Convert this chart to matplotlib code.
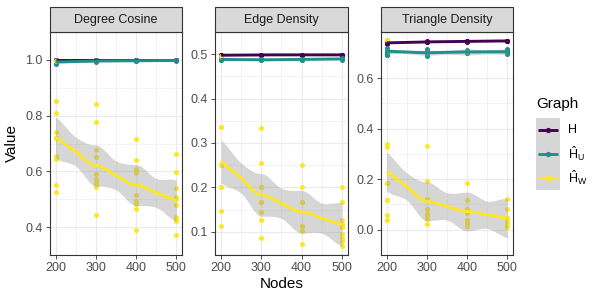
import numpy as np
import matplotlib
matplotlib.use('Agg')
import matplotlib.pyplot as plt
from matplotlib.patches import Rectangle
from matplotlib.lines import Line2D

plt.rcParams['font.family'] = ['Liberation Sans', 'DejaVu Sans']
plt.rcParams['mathtext.fontset'] = 'custom'
plt.rcParams['mathtext.rm'] = 'Liberation Sans'
plt.rcParams['mathtext.it'] = 'Liberation Sans'
plt.rcParams['mathtext.bf'] = 'Liberation Sans:bold'

# ---------------- data ----------------
nodes = [200, 300, 400, 500]
facets = ['Degree Cosine', 'Edge Density', 'Triangle Density']
legend_title = 'Graph'
series_labels = ['H', r'$\hat{\mathrm{H}}_\mathrm{U}$', r'$\hat{\mathrm{H}}_\mathrm{W}$']
series_colors = ['#440154', '#21908C', '#FDE725']

# Degree Cosine
deg_H = [[1.000, 0.9995, 0.999], [1.000, 0.9995, 0.999], [1.000, 0.9995, 0.999], [1.000, 0.9995, 0.999]]
deg_HU = [[0.999, 0.995, 0.992, 0.989, 0.986], [0.999, 0.997, 0.995, 0.993],
          [0.999, 0.997, 0.996], [0.999, 0.998, 0.996]]
deg_HW = [[0.997, 0.853, 0.809, 0.742, 0.721, 0.720, 0.655, 0.643, 0.551, 0.526],
          [0.843, 0.778, 0.676, 0.653, 0.590, 0.571, 0.561, 0.551, 0.543, 0.442],
          [0.715, 0.640, 0.608, 0.602, 0.595, 0.514, 0.495, 0.482, 0.465, 0.390],
          [0.662, 0.598, 0.541, 0.508, 0.501, 0.480, 0.436, 0.428, 0.421, 0.371]]

# Edge Density
edge_H = [[0.499, 0.498, 0.496], [0.499, 0.4985, 0.498], [0.499, 0.4985, 0.498], [0.499, 0.4985, 0.498]]
edge_HU = [[0.491, 0.489, 0.487, 0.486], [0.489, 0.487, 0.486],
           [0.490, 0.488, 0.487], [0.491, 0.489, 0.488]]
edge_HW = [[0.497, 0.337, 0.337, 0.251, 0.251, 0.251, 0.201, 0.201, 0.146, 0.114],
           [0.334, 0.254, 0.201, 0.201, 0.168, 0.168, 0.145, 0.145, 0.127, 0.086],
           [0.250, 0.200, 0.167, 0.167, 0.167, 0.112, 0.112, 0.101, 0.101, 0.072],
           [0.201, 0.168, 0.127, 0.117, 0.111, 0.111, 0.094, 0.086, 0.079, 0.067]]

# Triangle Density
tri_H = [[0.742, 0.739, 0.736], [0.745, 0.743, 0.741], [0.747, 0.745, 0.744], [0.748, 0.747, 0.745]]
tri_HU = [[0.750, 0.718, 0.706, 0.700, 0.697, 0.695, 0.693, 0.691],
          [0.715, 0.708, 0.702, 0.699, 0.696, 0.692, 0.688],
          [0.712, 0.706, 0.702, 0.699, 0.697],
          [0.716, 0.710, 0.705, 0.701, 0.697, 0.695]]
tri_HW = [[0.752, 0.338, 0.327, 0.184, 0.184, 0.184, 0.117, 0.117, 0.060, 0.038],
          [0.333, 0.193, 0.121, 0.121, 0.083, 0.083, 0.064, 0.056, 0.044, 0.022],
          [0.186, 0.119, 0.082, 0.082, 0.066, 0.066, 0.038, 0.038, 0.028, 0.016],
          [0.121, 0.083, 0.047, 0.047, 0.047, 0.036, 0.026, 0.026, 0.016, 0.010]]

panel_data = [[deg_H, deg_HU, deg_HW], [edge_H, edge_HU, edge_HW], [tri_H, tri_HU, tri_HW]]

y_limits = [(0.344, 1.030), (0.0476, 0.5206), (-0.0646, 0.782)]
y_ticks = [[0.4, 0.6, 0.8, 1.0], [0.1, 0.2, 0.3, 0.4, 0.5], [0.0, 0.2, 0.4, 0.6]]
x_ticks = [200, 300, 400, 500]


# ---------------- smoother (loess-like, vertex interpolation) ----------------
def hermite(xk, yk, dk, xg):
    xk = np.asarray(xk, float); yk = np.asarray(yk, float); dk = np.asarray(dk, float)
    i = np.clip(np.searchsorted(xk, xg, side='right') - 1, 0, len(xk) - 2)
    h = xk[i + 1] - xk[i]
    t = (xg - xk[i]) / h
    h00 = 2 * t**3 - 3 * t**2 + 1
    h10 = t**3 - 2 * t**2 + t
    h01 = -2 * t**3 + 3 * t**2
    h11 = t**3 - t**2
    return h00 * yk[i] + h10 * h * dk[i] + h01 * yk[i + 1] + h11 * h * dk[i + 1]


def smooth(xs, groups, xg):
    xs = np.asarray(xs, float)
    means = np.array([np.mean(g) for g in groups])
    ns = np.array([len(g) for g in groups])
    rss = sum(np.sum((np.asarray(g) - m) ** 2) for g, m in zip(groups, means))
    N = ns.sum()
    sigma = np.sqrt(rss / max(N - 5, 1))
    vx, vy, vd, vse = [], [], [], []
    last = len(xs) - 1
    for i in range(len(xs)):
        if i == 0:
            d = (means[1] - means[0]) / (xs[1] - xs[0])
        elif i == last:
            d = (means[i] - means[i - 1]) / (xs[i] - xs[i - 1])
        else:
            d = 0.0
        vx.append(xs[i]); vy.append(means[i]); vd.append(d)
        vse.append(sigma * np.sqrt(1.0 / ns[i]))
        if i < last:
            vx.append((xs[i] + xs[i + 1]) / 2)
            vy.append((means[i] + means[i + 1]) / 2)
            vd.append((means[i + 1] - means[i]) / (xs[i + 1] - xs[i]))
            vse.append(sigma * np.sqrt(0.25 / ns[i] + 0.25 / ns[i + 1]))
    fit = hermite(vx, vy, vd, xg)
    se = hermite(vx, vse, np.zeros(len(vx)), xg)
    return fit, 2.03 * se


# ---------------- figure ----------------
fig = plt.figure(figsize=(6, 3), dpi=100)
W, H = 600.0, 300.0
panel_left = [49.5, 215.0, 380.5]
panel_w = 132.8
panel_top, panel_bot = 32.0, 255.0
strip_top = 7.3
tick_fs = 9.0
title_fs = 11.0

xg = np.linspace(nodes[0], nodes[-1], 300)

for p, (name, sdata) in enumerate(zip(facets, panel_data)):
    ax = fig.add_axes([panel_left[p] / W, 1 - panel_bot / H, panel_w / W, (panel_bot - panel_top) / H])
    ax.set_xlim(185, 515)
    ax.set_ylim(*y_limits[p])
    ax.set_axisbelow(True)

    yt = y_ticks[p]
    step = yt[1] - yt[0]
    ax.set_xticks(x_ticks)
    ax.set_xticks([250, 350, 450], minor=True)
    ax.set_yticks(yt)
    ax.set_yticks([v + step / 2 for v in [yt[0] - step] + yt], minor=True)
    ax.set_yticklabels(['%.1f' % v for v in yt])
    ax.grid(True, which='major', color='#EBEBEB', linewidth=0.8)
    ax.grid(True, which='minor', color='#EBEBEB', linewidth=0.4)
    ax.tick_params(which='minor', length=0)
    ax.tick_params(which='major', length=2.75, width=0.6, color='#333333',
                   labelsize=tick_fs, labelcolor='#4D4D4D', pad=2.2)
    for s in ax.spines.values():
        s.set_color('#333333')
        s.set_linewidth(0.8)

    # points first
    for k, groups in enumerate(sdata):
        for xv, g in zip(nodes, groups):
            ax.scatter([xv] * len(g), g, s=13, color=series_colors[k], linewidths=0, zorder=2)
    # smooth layers
    for k, groups in enumerate(sdata):
        fit, half = smooth(nodes, groups, xg)
        ax.fill_between(xg, fit - half, fit + half, color='#999999', alpha=0.4, linewidth=0, zorder=3 + k)
        ax.plot(xg, fit, color=series_colors[k], linewidth=2.1, zorder=3.5 + k, solid_capstyle='butt')

    # strip
    sh = (panel_top - strip_top) / (panel_bot - panel_top)
    ax.add_patch(Rectangle((0, 1), 1, sh, transform=ax.transAxes, facecolor='#D9D9D9',
                           edgecolor='#333333', linewidth=0.8, clip_on=False, zorder=5))
    ax.text(0.5, 1 + sh / 2, name, transform=ax.transAxes, ha='center', va='center',
            fontsize=tick_fs, color='#1A1A1A', zorder=6)

fig.text((panel_left[0] + panel_left[2] + panel_w) / 2 / W, 1 - 284 / H, 'Nodes',
         ha='center', va='center', fontsize=title_fs)
fig.text(12 / W, 1 - 143.5 / H, 'Value', ha='center', va='center', rotation=90, fontsize=title_fs)

# legend (drawn as ggplot-style key blocks)
key_x0, key_w, key_h, key_top = 536.0, 24.0, 24.0, 118.0
fig.text(key_x0 / W, 1 - 104 / H, legend_title, ha='left', va='center', fontsize=title_fs)
for k, (lab, c) in enumerate(zip(series_labels, series_colors)):
    y0 = key_top + k * key_h
    fig.add_artist(Rectangle((key_x0 / W, 1 - (y0 + key_h) / H), key_w / W, key_h / H,
                             transform=fig.transFigure, facecolor='#D6D6D6', edgecolor='none'))
    yc = 1 - (y0 + key_h / 2) / H
    fig.add_artist(Line2D([(key_x0 + 2) / W, (key_x0 + key_w - 2) / W], [yc, yc],
                          transform=fig.transFigure, color=c, linewidth=2.1, solid_capstyle='butt'))
    fig.add_artist(Line2D([(key_x0 + key_w / 2) / W], [yc], transform=fig.transFigure,
                          color=c, marker='o', markersize=3.8, markeredgewidth=0, linestyle='none'))
    fig.text((key_x0 + key_w + 8) / W, yc, lab, ha='left', va='center', fontsize=tick_fs)

fig.savefig('out.png', dpi=100)
